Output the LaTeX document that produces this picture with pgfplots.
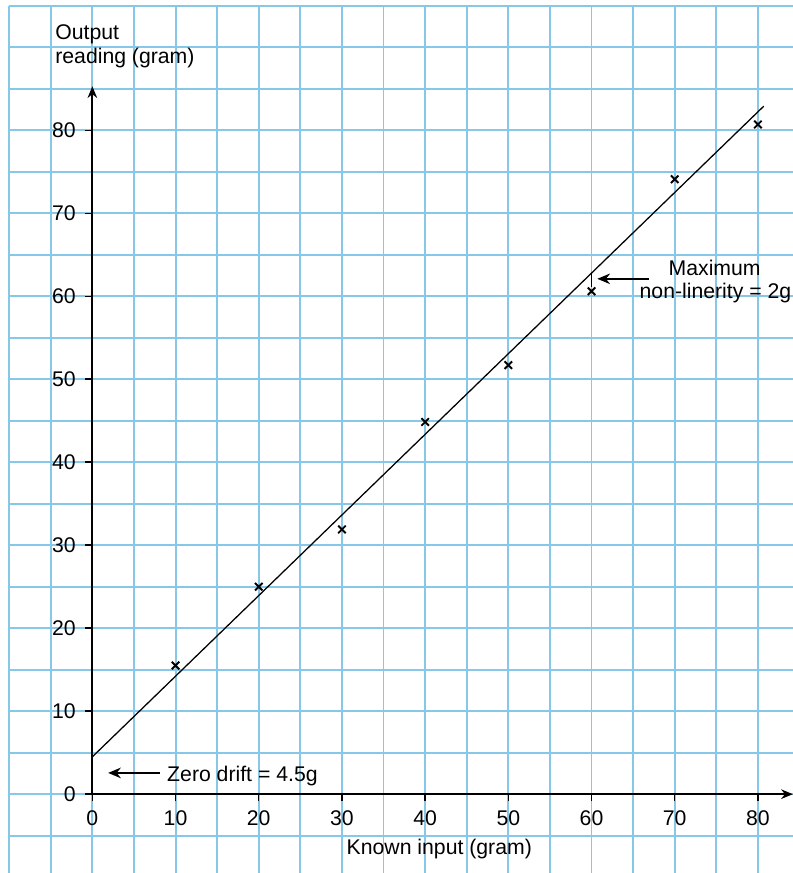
\documentclass[border=0pt]{standalone}
\usepackage{pgfplots}
\pgfplotsset{compat=1.18}
\usepackage{fontspec}
\setmainfont{Liberation Sans}
\usetikzlibrary{arrows.meta}

\definecolor{gridblue}{RGB}{135,200,232}

\begin{document}
\begin{tikzpicture}
\begin{axis}[
    x=3.92pt, y=3.91pt,
    xmin=-10, xmax=84.2,
    ymin=-9.5, ymax=95,
    axis lines=middle,
    axis line style={draw=none},
    clip=false,
    xtick={0,10,...,80},
    ytick={0,10,...,80},
    minor xtick={-10,-5,5,15,25,35,45,55,65,75},
    minor ytick={-5,5,15,25,35,45,55,65,75,85,90,95},
    grid=both,
    major grid style={gridblue, line width=0.9pt},
    minor grid style={gridblue, line width=0.9pt},
    tick align=outside,
    major tick length=3.3pt,
    minor tick length=0pt,
    tick style={black, line width=0.7pt},
    hide obscured x ticks=false,
    hide obscured y ticks=false,
    /pgf/number format/assume math mode=true,
    xticklabel style={yshift=-1pt},
    yticklabel style={xshift=-1pt},
]

% axes drawn from the origin only
\draw[line width=0.9pt, -{Stealth[length=5.5pt,width=4.5pt]}] (axis cs:0,0) -- (axis cs:84.2,0);
\draw[line width=0.9pt, -{Stealth[length=5.5pt,width=4.5pt]}] (axis cs:0,0) -- (axis cs:0,85.3);

% best fit line
\addplot[black, line width=0.6pt] coordinates {(0,4.5) (80.7,82.9)};

% measured readings
\addplot[only marks, mark=x, mark size=2.5pt, line width=0.9pt, black]
    coordinates {(10,15.5) (20,25.0) (30,31.9) (40,44.85) (50,51.7) (60,60.6) (70,74.1) (80,80.7)};

% non-linearity marker
\draw[black, line width=0.6pt] (axis cs:60,62.8) -- (axis cs:60,61.1);
\draw[black, line width=0.7pt, -{Stealth[length=6pt,width=5pt]}] (axis cs:66.9,62.1) -- (axis cs:60.7,62.1);
\node[anchor=base, inner sep=0] at (axis cs:74.8,62.5) {Maximum};
\node[anchor=base, inner sep=0] at (axis cs:74.9,59.7) {non-linerity = 2g};

% zero drift
\draw[black, line width=0.7pt, -{Stealth[length=6pt,width=5pt]}] (axis cs:8.15,2.56) -- (axis cs:1.9,2.56);
\node[anchor=base west, inner sep=0] at (axis cs:8.95,1.5) {Zero drift = 4.5g};

% axis labels
\node[anchor=base west, inner sep=0] at (axis cs:-4.5,90.9) {Output};
\node[anchor=base west, inner sep=0] at (axis cs:-4.5,88.1) {reading (gram)};
\node[anchor=base, inner sep=0] at (axis cs:41.7,-7.3) {Known input (gram)};

\coordinate (bbl) at (axis cs:-11.1,-9.5);
\coordinate (bbr) at (axis cs:84.2,95.7);
\end{axis}
\pgfresetboundingbox
\path (bbl) rectangle (bbr);
\end{tikzpicture}
\end{document}
